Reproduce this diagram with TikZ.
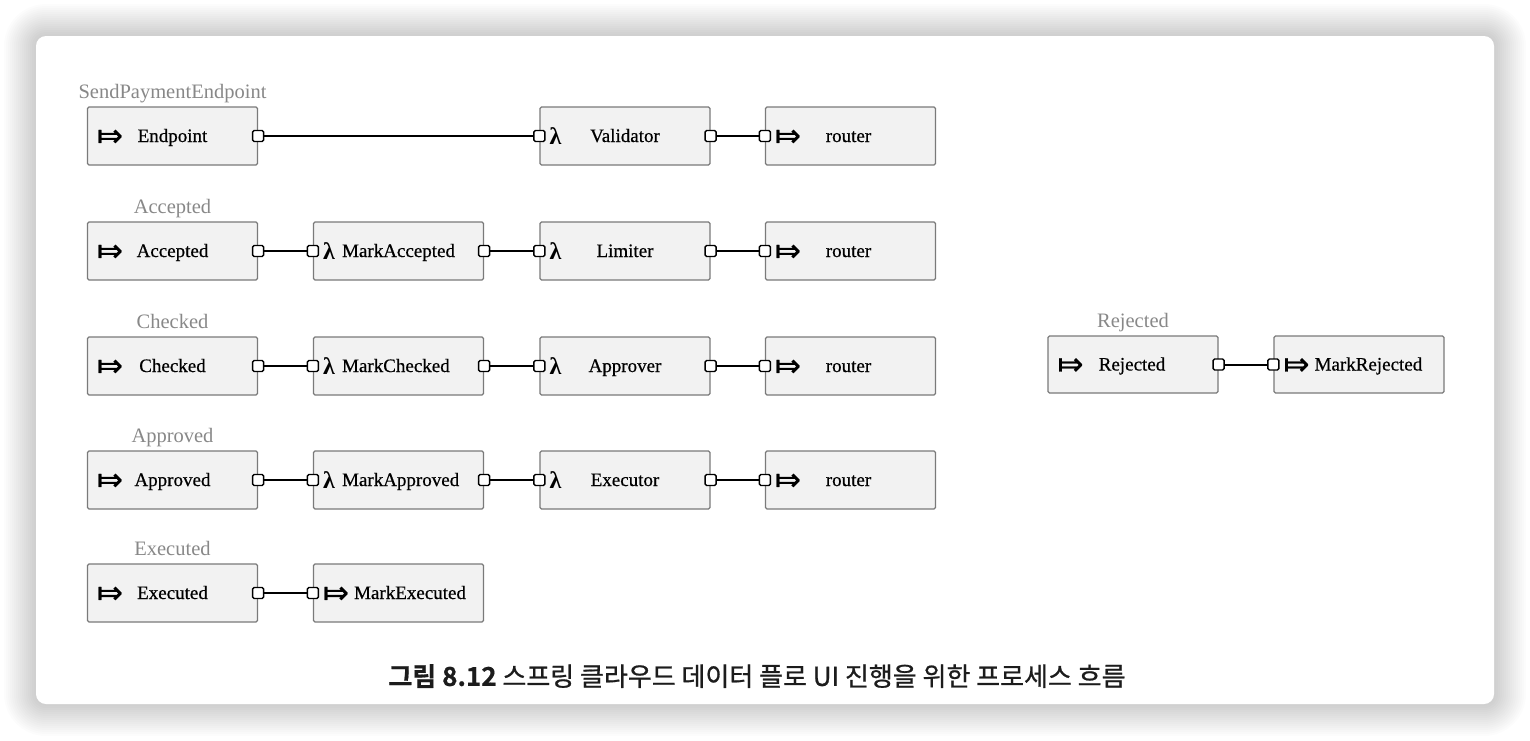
\documentclass[tikz,border=0pt]{standalone}
\usepackage{fontspec}
\setmainfont{Liberation Serif}
\newfontfamily\boxfont[FakeBold=0.6]{Liberation Serif}
\newfontfamily\krfont[FakeBold=0.8]{Noto Sans CJK KR}
\newfontfamily\krbold[FakeBold=0.6]{Noto Sans CJK KR Bold}
\newfontfamily\symfont[FakeBold=0.8]{DejaVu Sans}
\definecolor{boxfill}{HTML}{F2F2F2}
\definecolor{boxline}{HTML}{7A7A7A}
\definecolor{titlegray}{HTML}{888888}
\definecolor{captxt}{HTML}{1C1C1C}
\tikzset{
  box/.style={draw=boxline, fill=boxfill, line width=1.2pt, rounded corners=1.5pt,
    minimum width=170pt, minimum height=58pt, inner sep=0pt},
  port/.style={draw=black, fill=white, line width=1.4pt, rounded corners=1.5pt,
    minimum size=11pt, inner sep=0pt},
  wire/.style={line width=2pt, black},
  boxtext/.style={font=\boxfont\fontsize{19}{19}\selectfont, text=black, inner sep=0pt},
  grouptitle/.style={font=\fontsize{20.5}{20.5}\selectfont, text=titlegray, inner sep=0pt, anchor=base},
  arricon/.style={font=\symfont\fontsize{31}{31}\selectfont, inner sep=0pt},
  lamicon/.style={font=\bfseries\fontsize{24}{24}\selectfont, inner sep=0pt},
}
\begin{document}
\begin{tikzpicture}[x=1pt,y=-1pt]
\useasboundingbox (0,0) rectangle (1530,740);
% card shadow
\foreach \r in {2,4,...,32} {
  \fill[black, opacity=0.012, rounded corners=10+\r] (36-\r,36-\r) rectangle (1494+\r,704+\r);
}
\fill[white, rounded corners=10pt] (36,36) rectangle (1494,704);

% ---------- row 1
\node[box] (ep) at (172.5,136) {};
\node[box] (val) at (625,136) {};
\node[box] (r1) at (850.5,136) {};
% ---------- row 2
\node[box] (acc) at (172.5,251) {};
\node[box] (macc) at (398.5,251) {};
\node[box] (lim) at (625,251) {};
\node[box] (r2) at (850.5,251) {};
% ---------- row 3
\node[box] (chk) at (172.5,366) {};
\node[box] (mchk) at (398.5,366) {};
\node[box] (apr) at (625,366) {};
\node[box] (r3) at (850.5,366) {};
% ---------- row 4
\node[box] (apd) at (172.5,480) {};
\node[box] (mapd) at (398.5,480) {};
\node[box] (exe) at (625,480) {};
\node[box] (r4) at (850.5,480) {};
% ---------- row 5
\node[box] (exd) at (172.5,593) {};
\node[box] (mexd) at (398.5,593) {};
% ---------- rejected
\node[box, minimum height=57pt] (rej) at (1133,364.5) {};
\node[box, minimum height=57pt] (mrej) at (1359,364.5) {};

% group titles
\node[grouptitle] (tEp) at ([yshift=8pt]ep.north) {SendPaymentEndpoint};
\node[grouptitle] (tAcc) at ([yshift=8pt]acc.north) {Accepted};
\node[grouptitle] (tChk) at ([yshift=8pt]chk.north) {Checked};
\node[grouptitle] (tApd) at ([yshift=8pt]apd.north) {Approved};
\node[grouptitle] (tExd) at ([yshift=8pt]exd.north) {Executed};
\node[grouptitle] (tRej) at ([yshift=8pt]rej.north) {Rejected};

% icons
\foreach \b in {ep,acc,chk,apd,exd,r1,r2,r3,r4,mexd,rej,mrej} {
  \node[arricon] (\b I) at ([xshift=23pt,yshift=-2pt]\b.west) {⤇};
}
\foreach \b in {val,lim,apr,exe,macc,mchk,mapd} {
  \node[lamicon] (\b I) at ([xshift=16pt]\b.west) {λ};
}

% centred texts
\node[boxtext, anchor=base] (epT) at ([yshift=-6pt]ep.center) {Endpoint};
\node[boxtext, anchor=base] (accT) at ([yshift=-6pt]acc.center) {Accepted};
\node[boxtext, anchor=base] (chkT) at ([yshift=-6pt]chk.center) {Checked};
\node[boxtext, anchor=base] (apdT) at ([yshift=-6pt]apd.center) {Approved};
\node[boxtext, anchor=base] (exdT) at ([yshift=-6pt]exd.center) {Executed};
\node[boxtext, anchor=base] (valT) at ([yshift=-6pt]val.center) {Validator};
\node[boxtext, anchor=base] (limT) at ([yshift=-6pt]lim.center) {Limiter};
\node[boxtext, anchor=base] (aprT) at ([yshift=-6pt]apr.center) {Approver};
\node[boxtext, anchor=base] (exeT) at ([yshift=-6pt]exe.center) {Executor};
\foreach \b in {r1,r2,r3,r4} {
  \node[boxtext, anchor=base] (\b T) at ([xshift=-2pt,yshift=-6pt]\b.center) {router};
}
\node[boxtext, anchor=base] (rejT) at ([xshift=-1pt,yshift=-6pt]rej.center) {Rejected};
% left aligned texts
\node[boxtext, anchor=base west] (maccT) at ([xshift=29pt,yshift=-6pt]macc.west) {MarkAccepted};
\node[boxtext, anchor=base west] (mchkT) at ([xshift=29pt,yshift=-6pt]mchk.west) {MarkChecked};
\node[boxtext, anchor=base west] (mapdT) at ([xshift=29pt,yshift=-6pt]mapd.west) {MarkApproved};
\node[boxtext, anchor=base west] (mexdT) at ([xshift=41pt,yshift=-6pt]mexd.west) {MarkExecuted};
\node[boxtext, anchor=base west] (mrejT) at ([xshift=41pt,yshift=-6pt]mrej.west) {MarkRejected};

% ports and wires
\foreach \a/\b in {ep/val, val/r1, acc/macc, macc/lim, lim/r2, chk/mchk, mchk/apr, apr/r3,
                   apd/mapd, mapd/exe, exe/r4, exd/mexd, rej/mrej} {
  \node[port] (\a O) at (\a.east) {};
  \node[port] (\b P) at (\b.west) {};
  \draw[wire] (\a O.east) -- (\b P.west);
}

% caption
\node[font=\krfont\fontsize{26}{26}\selectfont, text=captxt, inner sep=0pt] (cap) at (757,676)
  {{\krbold 그림 8.12} 스프링 클라우드 데이터 플로 UI 진행을 위한 프로세스 흐름};
\end{tikzpicture}
\end{document}
